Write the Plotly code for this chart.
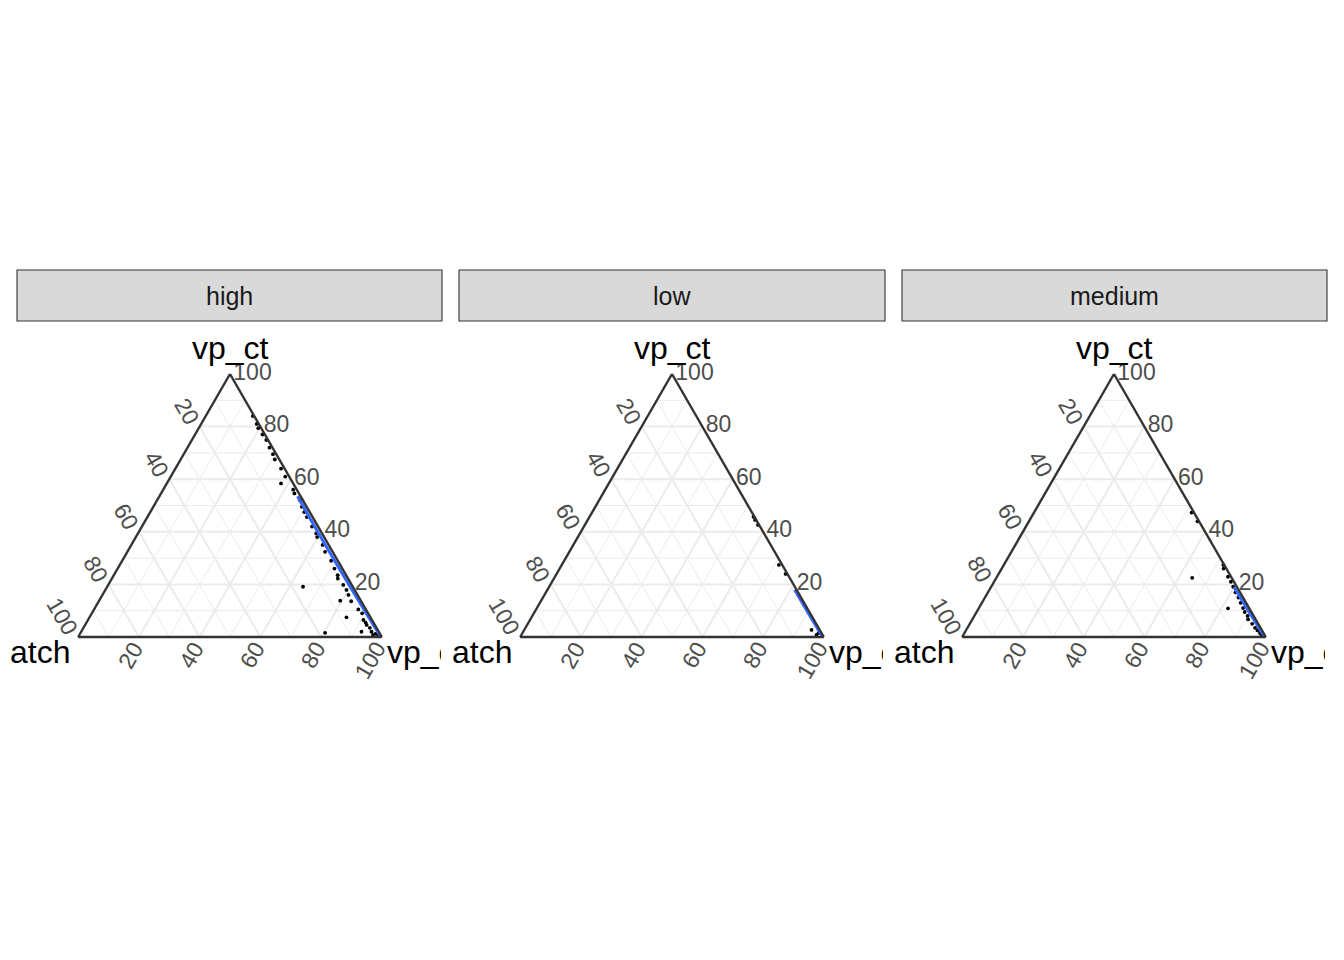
import plotly.graph_objects as go

# ---------------- data ----------------
facets = ["high", "low", "medium"]

# composition values (percent): top = vp_ct, left corner, right corner
high_ct = [84, 81, 79.4, 77, 74.9, 72, 69.5, 67.5, 64, 61, 58.4, 56, 54.6, 52.1, 49.5, 47.5, 45.6, 42,
           39.4, 38, 35, 32.4, 29, 26, 23.5, 22.2, 19.8, 17.9, 16, 13.6, 13.8, 19.1, 7.5, 6.5, 5.5, 4.6,
           3.5, 2.0, 2.0, 1.6, 0.8, 1.2, 0.5, 9.0, 10.5]
high_left = [0.5, 0.7, 1.0, 0.8, 0.6, 1.0, 1.1, 1.5, 1.2, 1.3, 4.0, 1.2, 1.5, 1.0, 1.6, 1.8, 1.9, 2.0,
             1.9, 2.3, 2.0, 2.5, 2.2, 2.6, 2.8, 3.4, 2.8, 2.7, 3.0, 3.3, 6.8, 16.4, 7.9, 2.8, 2.6, 2.7,
             2.2, 5.7, 2.4, 17.9, 2.5, 1.5, 1.0, 2.0, 2.5]
high_right = [15.5, 18.3, 19.6, 22.2, 24.5, 27.0, 29.4, 31.0, 34.8, 37.7, 37.6, 42.8, 43.9, 46.9, 48.9,
              50.7, 52.5, 56.0, 58.7, 59.7, 63.0, 65.1, 68.8, 71.4, 73.7, 74.4, 77.4, 79.4, 81.0, 83.1,
              79.4, 64.5, 84.6, 90.7, 91.9, 92.7, 94.3, 92.3, 95.6, 80.5, 96.7, 97.3, 98.5, 89.0, 87.0]

low_ct = [45.7, 44.5, 42.6, 27.4, 24.0, 2.7, 0.8, 1.5]
low_left = [0.3, 0.4, 0.4, 1.1, 0.6, 2.7, 2.0, 1.0]
low_right = [54.0, 55.1, 57.0, 71.5, 75.4, 94.6, 97.2, 97.5]

medium_ct = [47.3, 44.0, 27.4, 26.0, 22.9, 21.0, 19.1, 22.5, 17.0, 15.0, 13.0, 10.9, 11.0, 9.5, 8.0,
             6.7, 5.0, 3.5, 2.5, 1.5, 0.8]
medium_left = [0.8, 0.5, 0.3, 0.9, 1.0, 1.0, 1.2, 13.0, 1.5, 1.5, 1.8, 7.0, 2.0, 2.2, 2.0, 2.5, 2.0,
               1.8, 1.5, 1.2, 1.0]
medium_right = [51.9, 55.5, 72.3, 73.1, 76.1, 78.0, 79.7, 64.5, 81.5, 83.5, 85.2, 82.1, 87.0, 88.3,
                90.0, 90.8, 93.0, 94.7, 96.0, 97.3, 98.2]

# fitted (smooth) line per facet
high_fit_ct = [53.5, 45, 35, 25, 15, 5, 0]
high_fit_left = [1.0, 1.1, 1.1, 1.0, 0.8, 0.5, 0.3]
high_fit_right = [45.5, 53.9, 63.9, 74.0, 84.2, 94.5, 99.7]
low_fit_ct = [18, 10, 0]
low_fit_left = [0.6, 0.6, 0.4]
low_fit_right = [81.4, 89.4, 99.6]
medium_fit_ct = [19, 10, 0]
medium_fit_left = [1.0, 0.8, 0.4]
medium_fit_right = [80.0, 89.2, 99.6]

# axis ticks (values shown) and grid breaks
major_breaks = [20, 40, 60, 80, 100]
minor_breaks = [10, 30, 50, 70, 90]

top_title = "vp_ct"
left_title = "atch"
right_title = "vp_c"

points = {
    "high": (high_ct, high_left, high_right),
    "low": (low_ct, low_left, low_right),
    "medium": (medium_ct, medium_left, medium_right),
}
fits = {
    "high": (high_fit_ct, high_fit_left, high_fit_right),
    "low": (low_fit_ct, low_fit_left, low_fit_right),
    "medium": (medium_fit_ct, medium_fit_left, medium_fit_right),
}

# ---------------- layout geometry (page offset of 8px compensated) ----------------
OFF = 8
W, H = 1344 - OFF, 960 - OFF
tri_left_px = [78 - OFF, 520 - OFF, 962 - OFF]
tri_width_px = 304
tri_top_px, tri_bot_px = 374 - OFF, 637 - OFF
strip_px = [(17 - OFF, 442 - OFF), (459 - OFF, 885 - OFF), (902 - OFF, 1327 - OFF)]
strip_y = (270 - OFF, 321 - OFF)

FONT = "Liberation Sans, Arial, sans-serif"
GRID = "#EBEBEB"
TICKCOL = "#4D4D4D"
TICKSIZE = 23

fig = go.Figure()
layout_upd = {}

for i, name in enumerate(facets):
    sub = "ternary" if i == 0 else f"ternary{i+1}"

    # minor grid lines (constant value lines of each component)
    ga, gb, gc = [], [], []
    for v in minor_breaks:
        ga += [v, v, None]; gb += [100 - v, 0, None]; gc += [0, 100 - v, None]
        ga += [100 - v, 0, None]; gb += [v, v, None]; gc += [0, 100 - v, None]
        ga += [100 - v, 0, None]; gb += [0, 100 - v, None]; gc += [v, v, None]
    fig.add_trace(go.Scatterternary(a=ga, b=gb, c=gc, mode="lines", subplot=sub,
                                    line=dict(color=GRID, width=1),
                                    hoverinfo="skip", showlegend=False))

    ct, lf, rt = points[name]
    fig.add_trace(go.Scatterternary(a=ct, b=lf, c=rt, mode="markers", subplot=sub,
                                    marker=dict(color="black", size=3.8),
                                    cliponaxis=False, showlegend=False, name=name))
    fct, flf, frt = fits[name]
    fig.add_trace(go.Scatterternary(a=fct, b=flf, c=frt, mode="lines", subplot=sub,
                                    line=dict(color="#3366FF", width=3),
                                    cliponaxis=False, showlegend=False))

    x0 = tri_left_px[i] / W
    x1 = (tri_left_px[i] + tri_width_px) / W
    y0 = 1 - tri_bot_px / H
    y1 = 1 - tri_top_px / H

    axis_common = dict(showline=True, linecolor="#333333", linewidth=2.4,
                       showgrid=True, gridcolor=GRID, gridwidth=2,
                       ticks="",
                       tickfont=dict(family=FONT, size=TICKSIZE, color=TICKCOL),
                       tickmode="array", layer="above traces", title=dict(text=""))
    a_vals = [100 - v for v in major_breaks]
    layout_upd[sub] = dict(
        domain=dict(x=[x0, x1], y=[y0, y1]),
        sum=100,
        bgcolor="white",
        aaxis=dict(axis_common, tickvals=a_vals, ticktext=[str(v) for v in major_breaks],
                   tickangle=60),
        baxis=dict(axis_common, tickvals=a_vals, ticktext=[str(v) for v in major_breaks],
                   showticklabels=False),
        caxis=dict(axis_common, tickvals=a_vals, ticktext=[str(v) for v in major_breaks],
                   tickangle=0),
    )

    tl = tri_left_px[i]
    tr = tri_left_px[i] + tri_width_px
    tm = (tl + tr) / 2

    # bottom-edge tick labels (rotated, ggtern style)
    for v in major_breaks:
        lab = str(v)
        ln = len(lab) * 0.556 * TICKSIZE
        px = tl + tri_width_px * v / 100 - 2 - ln / 4
        py = tri_bot_px + 6.5 + 0.433 * ln
        fig.add_annotation(xref="paper", yref="paper", x=px / W, y=1 - py / H, text=lab,
                           showarrow=False, textangle=-60,
                           font=dict(family=FONT, size=TICKSIZE, color=TICKCOL),
                           xanchor="center", yanchor="middle", borderpad=0, borderwidth=0)

    # facet strip
    sx0, sx1 = strip_px[i]
    fig.add_shape(type="rect", xref="paper", yref="paper",
                  x0=sx0 / W, x1=sx1 / W, y0=1 - strip_y[1] / H, y1=1 - strip_y[0] / H,
                  fillcolor="#D9D9D9", line=dict(color="#333333", width=1.1))
    fig.add_annotation(xref="paper", yref="paper", x=(sx0 + sx1) / 2 / W,
                       y=1 - (strip_y[0] + strip_y[1]) / 2 / H, text=name, showarrow=False,
                       font=dict(family=FONT, size=25, color="#1A1A1A"),
                       xanchor="center", yanchor="middle")

    # corner (axis) titles, clipped to the panel like the original
    tfont = dict(family=FONT, size=32, color="black")
    fig.add_annotation(xref="paper", yref="paper", x=tm / W, y=1 - (tri_top_px - 6) / H,
                       text=top_title, showarrow=False, font=tfont,
                       xanchor="center", yanchor="bottom")
    fig.add_annotation(xref="paper", yref="paper", x=(tl - 6) / W, y=1 - (tri_bot_px + 15) / H,
                       text=left_title, showarrow=False, font=tfont,
                       xanchor="right", yanchor="middle")
    fig.add_annotation(xref="paper", yref="paper", x=(tr + 5) / W, y=1 - (tri_bot_px + 15) / H,
                       text=right_title, showarrow=False, font=tfont, width=54, align="left",
                       xanchor="left", yanchor="middle", borderpad=0, borderwidth=0)

fig.update_layout(**layout_upd)
fig.update_layout(width=W, height=H, margin=dict(l=0, r=0, t=0, b=0),
                  paper_bgcolor="white", plot_bgcolor="white", showlegend=False,
                  font=dict(family=FONT))

fig.write_html("out.html")
